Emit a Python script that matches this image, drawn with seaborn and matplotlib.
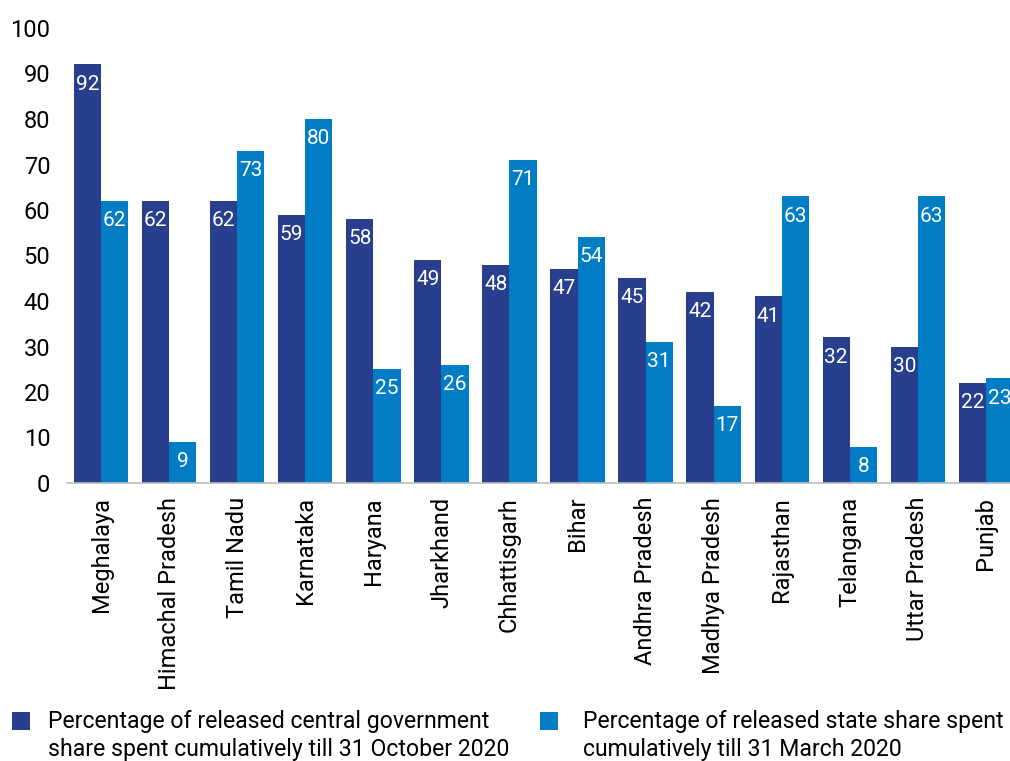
import matplotlib
matplotlib.use("Agg")
import matplotlib.pyplot as plt
import seaborn as sns
import pandas as pd
from matplotlib.patches import Rectangle

states = ["Meghalaya", "Himachal Pradesh", "Tamil Nadu", "Karnataka", "Haryana",
          "Jharkhand", "Chhattisgarh", "Bihar", "Andhra Pradesh", "Madhya Pradesh",
          "Rajasthan", "Telangana", "Uttar Pradesh", "Punjab"]
central_share = [92, 62, 62, 59, 58, 49, 48, 47, 45, 42, 41, 32, 30, 22]
state_share = [62, 9, 73, 80, 25, 26, 71, 54, 31, 17, 63, 8, 63, 23]

series_names = ["Percentage of released central government\nshare spent cumulatively till 31 October 2020",
                "Percentage of released state share spent\ncumulatively till 31 March 2020"]
colors = ["#283F8E", "#007DC5"]

df = pd.DataFrame({
    "State": states * 2,
    "Value": central_share + state_share,
    "Series": [series_names[0]] * len(states) + [series_names[1]] * len(states),
})

sns.set_theme(style="white")
plt.rcParams["font.family"] = ["Roboto", "DejaVu Sans"]

W, H = 1010, 761
fig = plt.figure(figsize=(W / 100, H / 100), dpi=100)
ax = fig.add_axes([67 / W, 278 / H, 953 / W, 455 / H])

sns.barplot(data=df, x="State", y="Value", hue="Series", palette=colors,
            width=0.8, saturation=1, linewidth=0, edgecolor="none",
            ax=ax, legend=False)

for container in ax.containers:
    ax.bar_label(container, labels=[f"{v:.0f}" for v in container.datavalues],
                 label_type="edge", padding=-21, color="white", fontsize=15)

ax.set_ylim(0, 100)
ax.set_xlim(-0.5, len(states) - 0.5)
ax.set_yticks(range(0, 101, 10))
ax.set_xlabel("")
ax.set_ylabel("")
ax.tick_params(axis="y", labelsize=17, pad=12, length=0, labelcolor="black")
ax.tick_params(axis="x", labelsize=17, pad=10, length=0, labelrotation=90, labelcolor="black")
for lbl in ax.get_xticklabels():
    lbl.set_va("top")
for side in ["top", "right", "left"]:
    ax.spines[side].set_visible(False)
ax.spines["bottom"].set_color("#BBBBBB")
ax.spines["bottom"].set_linewidth(1.2)

# Legend: colour swatch beside a two-line description for each series
legend_pos = [(12, 48), (540, 583)]
for (sx, tx), name, c in zip(legend_pos, series_names, colors):
    fig.add_artist(Rectangle((sx / W, 1 - 730 / H), 18 / W, 18 / H,
                             transform=fig.transFigure, facecolor=c, edgecolor="none"))
    fig.text(tx / W, 1 - 710 / H, name, ha="left", va="top", fontsize=16.6,
             color="black", linespacing=1.28)

fig.savefig("out.png", dpi=100)
